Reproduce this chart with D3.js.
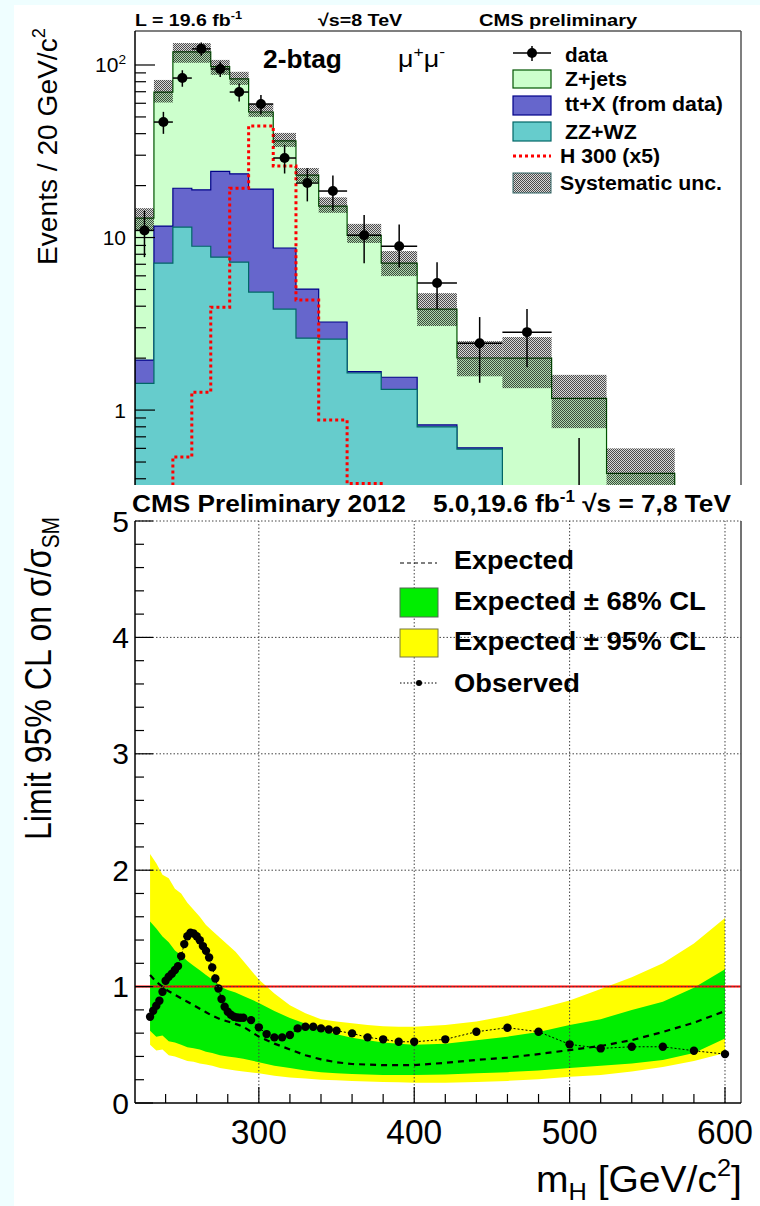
<!DOCTYPE html>
<html><head><meta charset="utf-8">
<script src="https://cdn.jsdelivr.net/npm/d3@7"></script>
<style>html,body{margin:0;padding:0;background:#fff;} svg{display:block;font-family:"Liberation Sans",Arial,Helvetica,sans-serif;}</style>
</head><body><svg id="c" width="760" height="1206"></svg>
<script>
// ---------------- TOP PANEL DATA (2-btag, mu+mu-) ----------------
const binEdges = [180,200,220,240,260,280,300,326,350,374,404,440,478,520,568,620,678,750,820];
const zzwz   = [1.43, 7.1, 11.5, 8.9, 7.7, 7.2, 4.83, 3.85, 2.61, 2.58, 1.64, 1.32, 0.80, 0.594, 0.30, 0.20, 0.12, 0.06];
const ttx    = [0.52, 4.56, 7.8, 10.0, 16.5, 16.2, 14.27, 4.85, 2.42, 0.66, 0.03, 0.23, 0.02, 0.01, 0.01, 0.01, 0.01, 0.0];
const zjets  = [11.0, 58.0, 99.7, 100.1, 73.7, 59.6, 34.3, 27.6, 17.97, 11.96, 8.63, 5.55, 3.03, 1.40, 1.69, 0.96, 0.30, 0.09];
const sysUp  = [14.8, 81.9, 134, 134, 107, 91.3, 59.4, 40.4, 25.3, 17.1, 12.0, 8.35, 4.76, 2.51, 2.65, 1.60, 0.60, 0.2];
const sysDown= [11.0, 60.6, 103, 103, 87.6, 76.7, 50.0, 33.5, 21.0, 13.9, 9.3, 5.98, 3.07, 1.57, 1.34, 0.786, 0.30, 0.1];
const h300   = [0.0, 0.2, 0.534, 1.27, 3.95, 19.3, 44.3, 26.0, 4.35, 0.875, 0.375, 0.1, 0.05, 0.02, 0.01, 0.0, 0.0, 0.0];
const dataVals = [11.0, 46.7, 84, 124, 94.8, 69.7, 59.4, 28.9, 20.7, 18.6, 10.3, 8.9, 5.45, 2.44, 2.83, 0.25, 0, 0];
const dataErrLo = [3.3, 6.8, 9.2, 11.1, 9.7, 8.3, 7.7, 5.4, 4.5, 4.3, 3.2, 2.2, 1.6, 1.0, 1.06, 0.25, 0, 0];
const dataErrHi = [3.3, 6.8, 9.2, 11.1, 9.7, 8.3, 7.7, 5.4, 4.5, 4.3, 3.2, 3.0, 1.75, 1.02, 1.02, 0.44, 0, 0];
const topYTicks = [1, 10, 100];

// ---------------- BOTTOM PANEL DATA (limits) ----------------
const massBand = [230,234,238,242,246,250,254,258,262,266,270,275,280,285,290,300,310,320,330,340,350,360,370,380,390,400,420,440,460,480,500,520,540,560,580,600];
const expected = [1.10,1.04,1.00,0.96,0.93,0.90,0.87,0.84,0.81,0.78,0.75,0.72,0.70,0.68,0.655,0.57,0.51,0.46,0.41,0.375,0.35,0.335,0.33,0.325,0.325,0.326,0.345,0.37,0.39,0.42,0.455,0.49,0.54,0.61,0.69,0.79];
const band95Hi = [2.14,2.06,1.96,1.93,1.84,1.80,1.72,1.66,1.60,1.53,1.48,1.42,1.36,1.30,1.22,1.06,0.94,0.84,0.77,0.72,0.70,0.685,0.67,0.66,0.655,0.655,0.67,0.70,0.75,0.81,0.88,0.98,1.08,1.20,1.37,1.59];
const band68Hi = [1.56,1.50,1.43,1.38,1.31,1.27,1.22,1.18,1.14,1.10,1.06,1.00,0.97,0.95,0.92,0.86,0.79,0.73,0.68,0.63,0.59,0.56,0.54,0.52,0.51,0.50,0.51,0.54,0.57,0.61,0.67,0.72,0.80,0.87,0.99,1.15];
const band68Lo = [0.62,0.57,0.58,0.53,0.52,0.50,0.48,0.47,0.46,0.44,0.43,0.41,0.40,0.39,0.38,0.35,0.32,0.30,0.28,0.265,0.255,0.25,0.245,0.24,0.24,0.24,0.245,0.255,0.265,0.28,0.30,0.32,0.34,0.37,0.43,0.555];
const band95Lo = [0.50,0.45,0.46,0.41,0.40,0.38,0.36,0.355,0.34,0.33,0.32,0.30,0.29,0.28,0.27,0.255,0.235,0.22,0.21,0.20,0.195,0.19,0.185,0.18,0.178,0.175,0.175,0.18,0.19,0.205,0.225,0.24,0.27,0.31,0.36,0.43];
const massObs = [230,232,234,236,238,240,242,244,246,248,250,252,254,256,258,260,262,264,266,268,270,272,274,276,278,280,282,284,286,288,290,
                 295,300,305,310,315,320,325,330,335,340,345,350,360,370,380,390,400,420,440,460,480,500,520,540,560,580,600];
const observed = [0.741,0.792,0.835,0.878,0.955,1.05,1.084,1.11,1.142,1.176,1.262,1.365,1.433,1.462,1.456,1.433,1.399,1.348,1.307,1.25,1.165,1.07,0.984,0.893,0.827,0.784,0.758,0.741,0.735,0.732,0.732,
                  0.712,0.65,0.592,0.564,0.564,0.584,0.641,0.655,0.655,0.641,0.632,0.621,0.598,0.564,0.547,0.526,0.526,0.547,0.612,0.647,0.612,0.504,0.469,0.483,0.483,0.449,0.42];
const botXTicks = [300,400,500,600];
const botXMinor = [240,260,280,320,340,360,380,420,440,460,480,520,540,560,580];
const botYTicks = [0,1,2,3,4,5];
const botYMinor = [0.2,0.4,0.6,0.8,1.2,1.4,1.6,1.8,2.2,2.4,2.6,2.8,3.2,3.4,3.6,3.8,4.2,4.4,4.6,4.8];

// ---------------- helpers ----------------
const svg = d3.select('#c');
const defs = svg.append('defs');
svg.append('rect').attr('width',760).attr('height',1206).attr('fill','#effeff');
svg.append('rect').attr('x',14).attr('y',5).attr('width',746).attr('height',1201).attr('fill','#ffffff');

function label(parent, o){
  const g = parent.append('g');
  const t = g.append('text').attr('font-size',o.size).attr('font-weight',o.weight||'normal')
    .attr('text-anchor',o.anchor||'start').attr('fill',o.fill||'#000');
  let shift = 0;
  o.parts.forEach(p=>{
    if(typeof p==='string'){ t.append('tspan').attr('dy', -shift).text(p); shift=0; }
    else { const dy = p.sup ? -o.size*0.42 : o.size*0.22; t.append('tspan').attr('dy', dy - shift).attr('font-size', o.size*(p.scale||0.65)).text(p.t); shift = dy; }
  });
  let k = 1;
  if(o.width){ const w = t.node().getBBox().width; if(w>0) k = o.width / w; }
  g.attr('transform', `translate(${o.x},${o.y}) rotate(${o.rot||0}) scale(${k},1)`);
  return g;
}

// ================= TOP PANEL =================
const FLOOR = 1e-3;
const xT = d3.scaleLinear().domain([180,820]).range([135,741]);
const yT = d3.scaleLog().domain([0.368,157.4]).range([485,31]);
defs.append('clipPath').attr('id','clipTop').append('rect').attr('x',135).attr('y',31).attr('width',606).attr('height',454);
const pat = defs.append('pattern').attr('id','sysPat').attr('width',2).attr('height',2).attr('patternUnits','userSpaceOnUse');
pat.append('rect').attr('width',2).attr('height',2).attr('fill','#000').attr('fill-opacity',0.15);
pat.append('rect').attr('width',1).attr('height',1).attr('fill','#000').attr('fill-opacity',0.65);
pat.append('rect').attr('x',1).attr('y',1).attr('width',1).attr('height',1).attr('fill','#000').attr('fill-opacity',0.65);

function stepPath(vals){
  const pts=[[xT(binEdges[0]), yT(FLOOR)]];
  vals.forEach((v,i)=>{ const yy=yT(Math.max(v,FLOOR)); pts.push([xT(binEdges[i]),yy],[xT(binEdges[i+1]),yy]); });
  pts.push([xT(binEdges[vals.length]), yT(FLOOR)]);
  return d3.line()(pts);
}
const sZZ = zzwz;
const sTT = zzwz.map((v,i)=>v+ttx[i]);
const sAll = sTT.map((v,i)=>v+zjets[i]);

const topG = svg.append('g').attr('clip-path','url(#clipTop)');
topG.append('path').attr('d',stepPath(sAll)).attr('fill','#ccffcc').attr('stroke','#005500').attr('stroke-width',1.2);
topG.append('path').attr('d',stepPath(sTT)).attr('fill','#6666cc').attr('stroke','#000088').attr('stroke-width',1.2);
topG.append('path').attr('d',stepPath(sZZ)).attr('fill','#66cccc').attr('stroke','#006666').attr('stroke-width',1.2);
topG.append('path').attr('d',stepPath(h300)).attr('fill','none').attr('stroke','#ff0000').attr('stroke-width',3).attr('stroke-dasharray','3,3');
// data error bars
binEdges.slice(0,-1).forEach((e,i)=>{
  const v = dataVals[i]; if(!(v>0)) return;
  const cx = xT((binEdges[i]+binEdges[i+1])/2);
  topG.append('line').attr('x1',cx).attr('x2',cx).attr('y1',yT(v+dataErrHi[i])).attr('y2',yT(Math.max(v-dataErrLo[i],FLOOR)))
    .attr('stroke','#000').attr('stroke-width',1.5);
  if(v>=yT.domain()[0]){
    topG.append('line').attr('x1',xT(binEdges[i])).attr('x2',xT(binEdges[i+1])).attr('y1',yT(v)).attr('y2',yT(v)).attr('stroke','#000').attr('stroke-width',1.5);
  }
});
// systematic band
sysUp.forEach((u,i)=>{
  topG.append('rect').attr('x',xT(binEdges[i])).attr('width',xT(binEdges[i+1])-xT(binEdges[i]))
    .attr('y',yT(u)).attr('height',Math.max(0,yT(Math.max(sysDown[i],FLOOR))-yT(u))).attr('fill','url(#sysPat)');
});
binEdges.slice(0,-1).forEach((e,i)=>{
  const v = dataVals[i]; if(!(v>=yT.domain()[0])) return;
  topG.append('circle').attr('cx',xT((binEdges[i]+binEdges[i+1])/2)).attr('cy',yT(v)).attr('r',5).attr('fill','#000');
});
// frame + axis
svg.append('line').attr('x1',135).attr('x2',741).attr('y1',31).attr('y2',31).attr('stroke','#555').attr('stroke-width',1.5);
svg.append('line').attr('x1',741).attr('x2',741).attr('y1',31).attr('y2',485).attr('stroke','#555').attr('stroke-width',1.5);
svg.append('line').attr('x1',135).attr('x2',135).attr('y1',31).attr('y2',485).attr('stroke','#000').attr('stroke-width',1.5);
const dom = yT.domain();
[0.1,1,10,100].forEach(d=>{ for(let k=1;k<10;k++){ const v=d*k; if(v<dom[0]||v>dom[1]) continue;
  const L = (k===1)?20:11;
  svg.append('line').attr('x1',135).attr('x2',135+L).attr('y1',yT(v)).attr('y2',yT(v)).attr('stroke','#000').attr('stroke-width',1.2);
}});
topYTicks.forEach(v=>{
  const parts = v===100 ? ['10',{t:'2',sup:true}] : [String(v)];
  label(svg,{x:126,y:yT(v)+7.5,size:21,anchor:'end',parts});
});
label(svg,{x:57,y:265,rot:-90,size:28,width:237,parts:['Events / 20 GeV/c',{t:'2',sup:true}]});
label(svg,{x:135,y:26,size:17,weight:'bold',width:107,parts:['L = 19.6 fb',{t:'-1',sup:true}]});
label(svg,{x:318,y:26,size:17,weight:'bold',width:85,parts:['\u221As=8 TeV']});
label(svg,{x:479,y:26,size:17,weight:'bold',width:159,parts:['CMS preliminary']});
label(svg,{x:263,y:68,size:25,weight:'bold',width:79,parts:['2-btag']});
label(svg,{x:398,y:67,size:23,width:47,parts:['\u03BC',{t:'+',sup:true},'\u03BC',{t:'-',sup:true}]});
// top legend
const lg = svg.append('g');
lg.append('line').attr('x1',513).attr('x2',551).attr('y1',53).attr('y2',53).attr('stroke','#000').attr('stroke-width',1.5);
lg.append('line').attr('x1',532).attr('x2',532).attr('y1',46).attr('y2',61).attr('stroke','#000').attr('stroke-width',1.5);
lg.append('circle').attr('cx',532).attr('cy',53).attr('r',5).attr('fill','#000');
lg.append('rect').attr('x',513).attr('y',70).attr('width',38).attr('height',18).attr('fill','#ccffcc').attr('stroke','#005500').attr('stroke-width',1.2);
lg.append('rect').attr('x',513).attr('y',96).attr('width',38).attr('height',19).attr('fill','#6666cc').attr('stroke','#000088').attr('stroke-width',1.2);
lg.append('rect').attr('x',513).attr('y',122).attr('width',38).attr('height',19).attr('fill','#66cccc').attr('stroke','#006666').attr('stroke-width',1.2);
lg.append('line').attr('x1',513).attr('x2',551).attr('y1',156).attr('y2',156).attr('stroke','#ff0000').attr('stroke-width',3).attr('stroke-dasharray','3,3');
lg.append('rect').attr('x',513).attr('y',173).attr('width',38).attr('height',20).attr('fill','url(#sysPat)').attr('stroke','#336666').attr('stroke-width',1);
label(lg,{x:565,y:62,size:21,weight:'bold',width:43,parts:['data']});
label(lg,{x:565,y:86,size:21,weight:'bold',width:62,parts:['Z+jets']});
label(lg,{x:565,y:111,size:21,weight:'bold',width:158,parts:['tt+X (from data)']});
label(lg,{x:565,y:139,size:21,weight:'bold',width:72,parts:['ZZ+WZ']});
label(lg,{x:560,y:163,size:21,weight:'bold',width:100,parts:['H 300 (x5)']});
label(lg,{x:560,y:190,size:21,weight:'bold',width:162,parts:['Systematic unc.']});

// ================= BOTTOM PANEL =================
const xB = d3.scaleLinear().domain([220.3,610.3]).range([135,741]);
const yB = d3.scaleLinear().domain([0,5]).range([1103,521]);
defs.append('clipPath').attr('id','clipBot').append('rect').attr('x',135).attr('y',521).attr('width',606).attr('height',582);
const bot = svg.append('g').attr('clip-path','url(#clipBot)');
const bandRows = massBand.map((m,i)=>({m, e:expected[i], l95:band95Lo[i], h95:band95Hi[i], l68:band68Lo[i], h68:band68Hi[i]}));
bot.append('path').datum(bandRows).attr('fill','#ffff00').attr('d',d3.area().x(d=>xB(d.m)).y0(d=>yB(d.l95)).y1(d=>yB(d.h95)));
bot.append('path').datum(bandRows).attr('fill','#00ee00').attr('d',d3.area().x(d=>xB(d.m)).y0(d=>yB(d.l68)).y1(d=>yB(d.h68)));
// grid
botXTicks.forEach(v=>bot.append('line').attr('x1',xB(v)).attr('x2',xB(v)).attr('y1',yB(0)).attr('y2',yB(5)).attr('stroke','#444').attr('stroke-width',1).attr('stroke-dasharray','1.5,2'));
botYTicks.slice(1).forEach(v=>svg.append('line').attr('x1',xB.range()[0]).attr('x2',xB.range()[1]).attr('y1',yB(v)).attr('y2',yB(v)).attr('stroke','#444').attr('stroke-width',1).attr('stroke-dasharray','1.5,2'));
// red line at 1
bot.append('line').attr('x1',xB.range()[0]).attr('x2',xB.range()[1]).attr('y1',yB(1)).attr('y2',yB(1)).attr('stroke','#ff0000').attr('stroke-width',2);
// expected
bot.append('path').datum(bandRows).attr('fill','none').attr('stroke','#000').attr('stroke-width',2.2).attr('stroke-dasharray','6,5')
  .attr('d',d3.line().x(d=>xB(d.m)).y(d=>yB(d.e)));
// observed
const obsRows = massObs.map((m,i)=>({m,v:observed[i]}));
bot.append('path').datum(obsRows).attr('fill','none').attr('stroke','#000').attr('stroke-width',1).attr('stroke-dasharray','2,2')
  .attr('d',d3.line().x(d=>xB(d.m)).y(d=>yB(d.v)));
bot.selectAll('circle.obs').data(obsRows).enter().append('circle').attr('cx',d=>xB(d.m)).attr('cy',d=>yB(d.v)).attr('r',4.2).attr('fill','#000');
// frame
svg.append('line').attr('x1',741).attr('x2',741).attr('y1',521).attr('y2',1103).attr('stroke','#444').attr('stroke-width',1.5);
svg.append('line').attr('x1',135).attr('x2',135).attr('y1',521).attr('y2',1103).attr('stroke','#000').attr('stroke-width',1.5);
svg.append('line').attr('x1',135).attr('x2',741).attr('y1',1103).attr('y2',1103).attr('stroke','#000').attr('stroke-width',1.5);
botXTicks.forEach(v=>svg.append('line').attr('x1',xB(v)).attr('x2',xB(v)).attr('y1',1103).attr('y2',1103-16).attr('stroke','#000').attr('stroke-width',1.2));
botXMinor.forEach(v=>svg.append('line').attr('x1',xB(v)).attr('x2',xB(v)).attr('y1',1103).attr('y2',1103-9).attr('stroke','#000').attr('stroke-width',1.2));
botYTicks.forEach(v=>svg.append('line').attr('x1',135).attr('x2',135+18).attr('y1',yB(v)).attr('y2',yB(v)).attr('stroke','#000').attr('stroke-width',1.2));
botYMinor.forEach(v=>svg.append('line').attr('x1',135).attr('x2',135+9).attr('y1',yB(v)).attr('y2',yB(v)).attr('stroke','#000').attr('stroke-width',1.2));
botYTicks.forEach(v=>label(svg,{x:129,y:yB(v)+10.5,size:30,anchor:'end',parts:[String(v)]}));
botXTicks.forEach(v=>label(svg,{x:xB(v),y:1144,size:35,anchor:'middle',width:56,parts:[String(v)]}));
label(svg,{x:536,y:1192,size:37,width:206,parts:['m',{t:'H',sub:true},' [GeV/c',{t:'2',sup:true},']']});
label(svg,{x:51,y:840,rot:-90,size:37,width:323,parts:['Limit 95% CL on \u03C3/\u03C3',{t:'SM',sub:true}]});
label(svg,{x:132,y:512,size:24,weight:'bold',width:274,parts:['CMS Preliminary 2012']});
label(svg,{x:433,y:512,size:24,weight:'bold',width:298,parts:['5.0,19.6 fb',{t:'-1',sup:true},' \u221As = 7,8 TeV']});
// bottom legend
const lb = svg.append('g');
lb.append('line').attr('x1',400).attr('x2',437).attr('y1',563).attr('y2',563).attr('stroke','#000').attr('stroke-width',1.2).attr('stroke-dasharray','4,3');
lb.append('rect').attr('x',400).attr('y',588).attr('width',38).attr('height',29).attr('fill','#00ee00').attr('stroke','#556655').attr('stroke-width',1);
lb.append('rect').attr('x',400).attr('y',629).attr('width',38).attr('height',28).attr('fill','#ffff00').attr('stroke','#777744').attr('stroke-width',1);
lb.append('line').attr('x1',400).attr('x2',437).attr('y1',683).attr('y2',683).attr('stroke','#000').attr('stroke-width',1).attr('stroke-dasharray','1.5,2');
lb.append('circle').attr('cx',419).attr('cy',683).attr('r',3).attr('fill','#000');
label(lb,{x:454,y:569,size:26,weight:'bold',width:120,parts:['Expected']});
label(lb,{x:454,y:610,size:26,weight:'bold',width:252,parts:['Expected \u00B1 68% CL']});
label(lb,{x:454,y:650,size:26,weight:'bold',width:252,parts:['Expected \u00B1 95% CL']});
label(lb,{x:454,y:692,size:26,weight:'bold',width:126,parts:['Observed']});
</script></body></html>
